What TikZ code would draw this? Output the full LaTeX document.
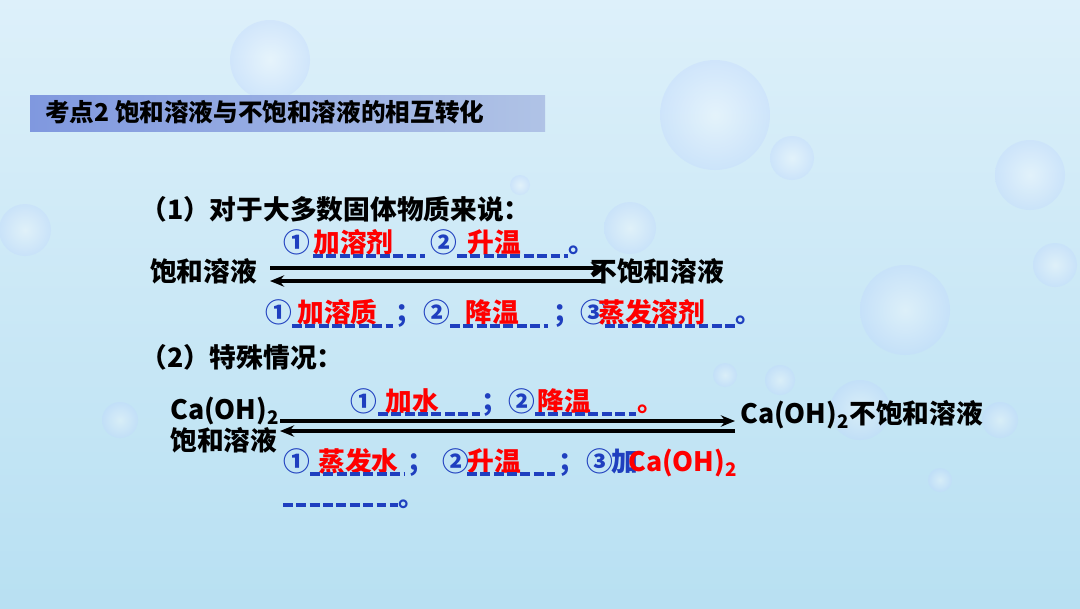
\documentclass[tikz,border=0pt]{standalone}
\usepackage{fontspec}
\setmainfont{Noto Sans CJK SC}
\usetikzlibrary{arrows.meta}
\definecolor{bgtop}{HTML}{DDF0FA}
\definecolor{bgbot}{HTML}{B8E0F2}
\definecolor{titbar}{HTML}{8EA9DB}
\definecolor{ansred}{HTML}{FF0000}
\definecolor{numblue}{HTML}{1F3FBF}
\tikzset{
  txt/.style={anchor=base west,inner sep=0pt,font=\fontsize{19}{22}\selectfont\bfseries},
  ans/.style={txt,text=ansred},
  num/.style={txt,text=numblue},
  blank/.style={draw=numblue,line width=2.2pt,dash pattern=on 7pt off 2.5pt},
  arr/.style={line width=2.4pt,-{Stealth[length=10pt,width=8pt]}},
  bubble/.style={inner color=white,outer color=cyan!35!blue!25,opacity=0.35,draw=none}
}
\begin{document}
\begin{tikzpicture}[x=0.025cm,y=-0.025cm]
\useasboundingbox (0,0) rectangle (1080,608);
\shade[top color=bgtop,bottom color=bgbot] (0,0) rectangle (1080,608);
% bubbles
\foreach \x/\y/\r in {270/60/40,715/115/55,792/158/22,1030/175/35,905/310/45,1055/265/22,25/230/26,630/228/26,120/420/18,725/375/12,860/410/30,1000/420/18,940/480/12,780/380/15,520/185/10}
  \shade[bubble] (\x,\y) circle (\r);
% title
\shade[left color=titbar!90!blue,right color=titbar!70!white] (30,95) rectangle (545,131);
\node[txt,font=\fontsize{17.5}{20}\selectfont\bfseries] (title) at (45,121) {考点2\ 饱和溶液与不饱和溶液的相互转化};
% part 1
\node[txt] (p1) at (140,219) {（1）对于大多数固体物质来说：};
\node[num] (r1a) at (283,252) {①};
\node[ans] (r1b) at (313,252) {加溶剂};
\node[num] (r1c) at (430,252) {②};
\node[ans] (r1d) at (467,252) {升温};
\node[num] (r1e) at (568,252) {。};
\draw[blank] (313,256) -- (425,256);
\draw[blank] (457,256) -- (568,256);
\node[txt] (sat1) at (150,281) {饱和溶液};
\node[txt] (uns1) at (590,281) {不饱和溶液};
\coordinate (a1s) at (270,268); \coordinate (a1e) at (605,268);
\coordinate (b1s) at (605,281); \coordinate (b1e) at (270,281);
\draw[arr] (a1s) -- (a1e);
\draw[arr] (b1s) -- (b1e);
\node[num] (r3a) at (265,322) {①};
\node[ans] (r3b) at (297,322) {加溶质};
\node[num] (r3c) at (395,322) {；};
\node[num] (r3d) at (423,322) {②};
\node[ans] (r3e) at (465,322) {降温};
\node[num] (r3f) at (553,322) {；};
\node[num] (r3g) at (580,322) {③};
\node[ans] (r3h) at (598,322) {蒸发溶剂};
\node[num] (r3i) at (735,322) {。};
\draw[blank] (292,326) -- (393,326);
\draw[blank] (450,326) -- (548,326);
\draw[blank] (605,326) -- (735,326);
% part 2
\node[txt] (p2) at (140,367) {（2）特殊情况：};
\node[txt] (ca1) at (170,419) {Ca(OH)\textsubscript{2}};
\node[txt] (sat2) at (170,450) {饱和溶液};
\node[txt] (uns2) at (740,423) {Ca(OH)\textsubscript{2}不饱和溶液};
\coordinate (a2s) at (280,421); \coordinate (a2e) at (735,421);
\coordinate (b2s) at (735,431); \coordinate (b2e) at (280,431);
\draw[arr] (a2s) -- (a2e);
\draw[arr] (b2s) -- (b2e);
\node[num] (r5a) at (350,411) {①};
\node[ans] (r5b) at (385,411) {加水};
\node[num] (r5c) at (481,411) {；};
\node[num] (r5d) at (508,411) {②};
\node[ans] (r5e) at (537,411) {降温};
\node[ans] (r5f) at (637,411) {。};
\draw[blank] (378,414) -- (480,414);
\draw[blank] (535,414) -- (636,414);
\node[num] (r6a) at (283,471) {①};
\node[ans] (r6b) at (318,471) {蒸发水};
\node[num] (r6c) at (407,471) {；};
\node[num] (r6d) at (442,471) {②};
\node[ans] (r6e) at (467,471) {升温};
\node[num] (r6f) at (558,471) {；};
\node[num] (r6g) at (586,471) {③};
\node[num] (r6h) at (611,471) {加};
\node[ans] (r6i) at (628,471) {Ca(OH)\textsubscript{2}};
\draw[blank] (310,474) -- (405,474);
\draw[blank] (467,474) -- (555,474);
\draw[blank] (283,505) -- (398,505);
\node[num] (r7) at (398,506) {。};
\end{tikzpicture}
\end{document}
